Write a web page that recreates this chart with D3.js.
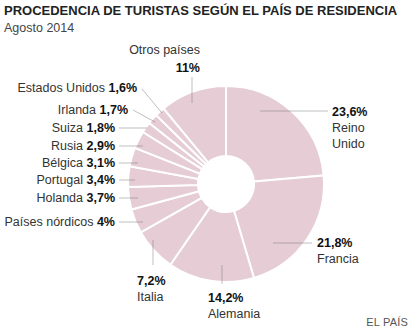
<!DOCTYPE html>
<html><head><meta charset="utf-8">
<script src="https://cdn.jsdelivr.net/npm/d3@7"></script>
<style>
html,body{margin:0;padding:0;background:#fff;}
svg{display:block;font-family:"Liberation Sans",Arial,Helvetica,sans-serif;}
</style></head>
<body>
<svg id="chart" width="414" height="330"></svg>
<script>
// ---- data ----
const countries = ["Reino Unido","Francia","Alemania","Italia","Países nórdicos","Holanda","Portugal","Bélgica","Rusia","Suiza","Irlanda","Estados Unidos","Otros países"];
const shares = [23.6,21.8,14.2,7.2,4,3.7,3.4,3.1,2.9,1.8,1.7,1.6,11];
const title = "PROCEDENCIA DE TURISTAS SEGÚN EL PAÍS DE RESIDENCIA";
const subtitle = "Agosto 2014";
const source = "EL PAÍS";

// ---- layout (annotation placement, not data) ----
const cx = 226, cy = 184, rOuter = 98, rInner = 28;
const fs = 12.5;
const labelLayout = {
  "Reino Unido":    {mode:"stack", x:332, y:116, anchor:"start", lines:["Reino","Unido"], leader:[[260,111],[328,111]]},
  "Francia":        {mode:"stack", x:317, y:247, anchor:"start", lines:["Francia"], leader:[[273,243],[312,243]]},
  "Alemania":       {mode:"stack", x:208, y:302, anchor:"start", lines:["Alemania"], leader:[[222,265],[222,284]]},
  "Italia":         {mode:"stack", x:137, y:285, anchor:"start", lines:["Italia"], leader:[[153,240],[153,265]]},
  "Países nórdicos":{mode:"inline", x:115, y:226, leader:[[143,222],[119,222]]},
  "Holanda":        {mode:"inline", x:115, y:202, leader:[[138,198],[119,198]]},
  "Portugal":       {mode:"inline", x:115, y:184, leader:[[135,180],[119,180]]},
  "Bélgica":        {mode:"inline", x:115, y:167, leader:[[138,163],[119,163]]},
  "Rusia":          {mode:"inline", x:115, y:150, leader:[[143,146],[119,146]]},
  "Suiza":          {mode:"inline", x:115, y:132, leader:[[147,128],[119,128]]},
  "Irlanda":        {mode:"inline", x:128, y:114, leader:[[155,122],[133,110]]},
  "Estados Unidos": {mode:"inline", x:137, y:92,  leader:[[162,113],[142,89]]},
  "Otros países":   {mode:"top",    x:200, y:54, leader:[[192,103],[192,77]]}
};

const fmt = v => String(v).replace(".", ",") + "%";

const svg = d3.select("#chart");

svg.append("text").attr("x",4).attr("y",15)
  .attr("font-size",13).attr("font-weight","bold").attr("fill","#222")
  .text(title);
svg.append("text").attr("x",4).attr("y",32)
  .attr("font-size",12.5).attr("fill","#444")
  .text(subtitle);
svg.append("text").attr("x",408).attr("y",326).attr("text-anchor","end")
  .attr("font-size",11).attr("fill","#555").attr("letter-spacing",0.2)
  .text(source);

const records = countries.map((c,i)=>({name:c, value:shares[i]}));
const pie = d3.pie().value(d=>d.value).sort(null).startAngle(0).endAngle(2*Math.PI);
const arc = d3.arc().innerRadius(rInner).outerRadius(rOuter);

const g = svg.append("g").attr("transform",`translate(${cx},${cy})`);
g.selectAll("path").data(pie(records)).join("path")
  .attr("d",arc)
  .attr("fill","#e5ccd5")
  .attr("stroke","#fff")
  .attr("stroke-width",2);

const lab = svg.append("g");
records.forEach(r=>{
  const L = labelLayout[r.name];
  lab.append("line")
    .attr("x1",L.leader[0][0]).attr("y1",L.leader[0][1])
    .attr("x2",L.leader[1][0]).attr("y2",L.leader[1][1])
    .attr("stroke","rgba(110,110,110,0.45)").attr("stroke-width",1);
});

records.forEach(r=>{
  const L = labelLayout[r.name];
  if (L.mode==="inline"){
    const t = lab.append("text").attr("x",L.x).attr("y",L.y).attr("text-anchor","end")
      .attr("font-size",fs).attr("fill","#333");
    t.append("tspan").text(r.name+" ");
    t.append("tspan").attr("font-weight","bold").attr("fill","#111").text(fmt(r.value));
  } else if (L.mode==="top"){
    lab.append("text").attr("x",L.x).attr("y",L.y).attr("text-anchor","end")
      .attr("font-size",fs).attr("fill","#333").text(r.name);
    lab.append("text").attr("x",L.x).attr("y",L.y+18).attr("text-anchor","end")
      .attr("font-size",fs).attr("font-weight","bold").attr("fill","#111").text(fmt(r.value));
  } else {
    lab.append("text").attr("x",L.x).attr("y",L.y).attr("text-anchor",L.anchor)
      .attr("font-size",fs).attr("font-weight","bold").attr("fill","#111").text(fmt(r.value));
    L.lines.forEach((ln,i)=>{
      lab.append("text").attr("x",L.x).attr("y",L.y+16+i*15.5).attr("text-anchor",L.anchor)
        .attr("font-size",fs).attr("fill","#333").text(ln);
    });
  }
});
</script>
</body></html>
